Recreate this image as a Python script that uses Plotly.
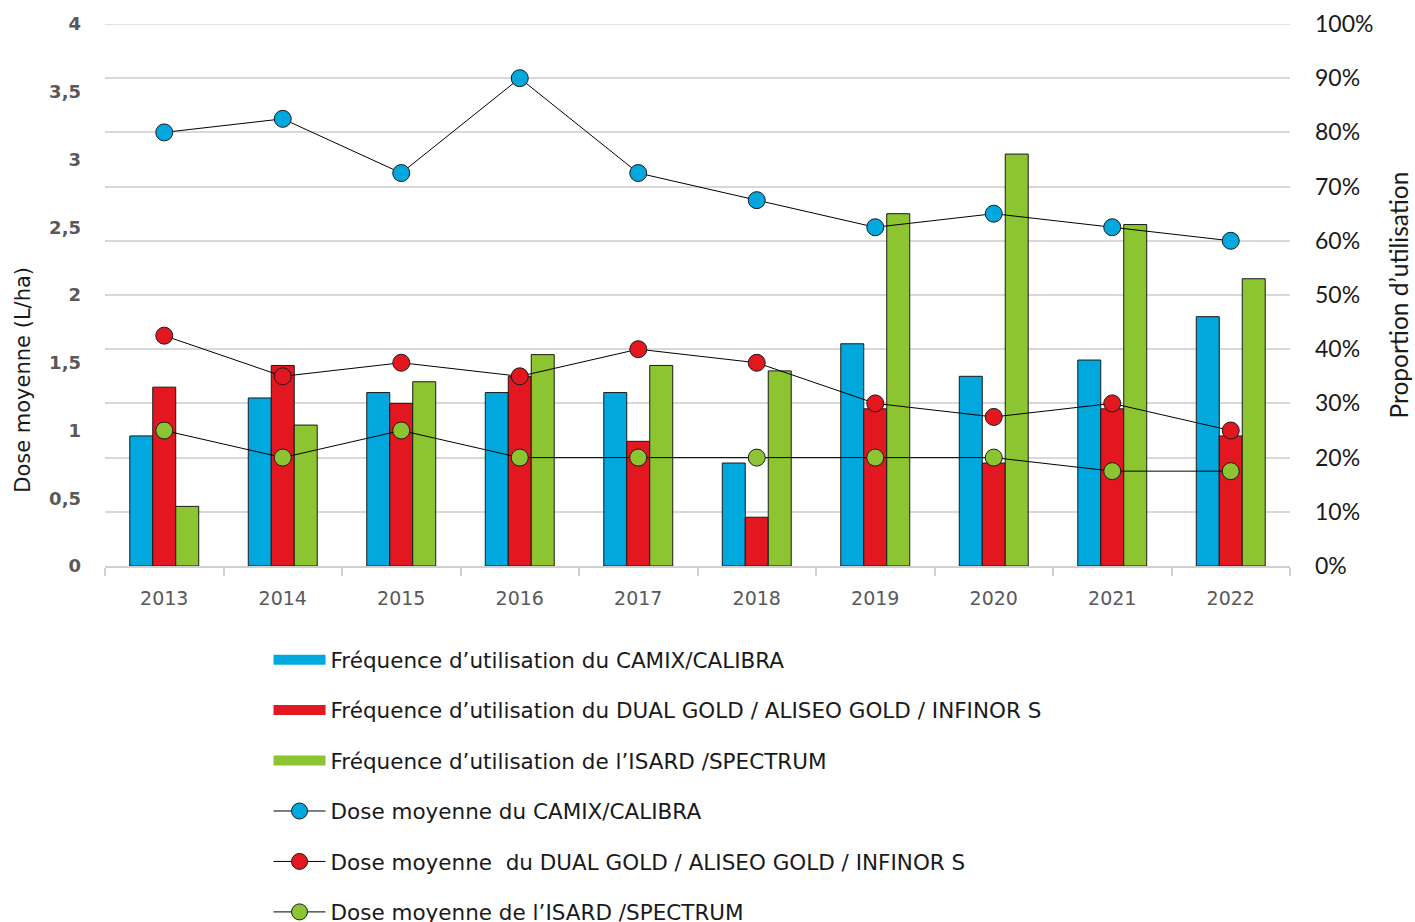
import plotly.graph_objects as go

years = ["2013", "2014", "2015", "2016", "2017", "2018", "2019", "2020", "2021", "2022"]

camix_freq = [24, 31, 32, 32, 32, 19, 41, 35, 38, 46]
dual_freq = [33, 37, 30, 35, 23, 9, 29, 19, 29, 24]
isard_freq = [11, 26, 34, 39, 37, 36, 65, 76, 63, 53]

camix_dose = [3.2, 3.3, 2.9, 3.6, 2.9, 2.7, 2.5, 2.6, 2.5, 2.4]
dual_dose = [1.7, 1.4, 1.5, 1.4, 1.6, 1.5, 1.2, 1.1, 1.2, 1.0]
isard_dose = [1.0, 0.8, 1.0, 0.8, 0.8, 0.8, 0.8, 0.8, 0.7, 0.7]

pct_ticks = [0, 10, 20, 30, 40, 50, 60, 70, 80, 90, 100]
pct_labels = ["0%", "10%", "20%", "30%", "40%", "50%", "60%", "70%", "80%", "90%", "100%"]
dose_ticks = [0, 0.5, 1, 1.5, 2, 2.5, 3, 3.5, 4]
dose_labels = ["0", "0,5", "1", "1,5", "2", "2,5", "3", "3,5", "4"]

BLUE = "#00A8DE"
RED = "#E3171F"
GREEN = "#8DC431"
OUTLINE = "#1a1a1a"
GRID = "#d9d9d9"

bar_names = [
    "Fréquence d’utilisation du CAMIX/CALIBRA",
    "Fréquence d’utilisation du DUAL GOLD / ALISEO GOLD / INFINOR S",
    "Fréquence d’utilisation de l’ISARD /SPECTRUM",
]
line_names = [
    "Dose moyenne du CAMIX/CALIBRA",
    "Dose moyenne  du DUAL GOLD / ALISEO GOLD / INFINOR S",
    "Dose moyenne de l’ISARD /SPECTRUM",
]

fig = go.Figure()

for i, (vals, col) in enumerate(zip([camix_freq, dual_freq, isard_freq], [BLUE, RED, GREEN])):
    fig.add_trace(go.Bar(
        x=years, y=vals, name=bar_names[i], yaxis="y",
        marker=dict(color=col, line=dict(color=OUTLINE, width=1)),
        showlegend=False, hoverinfo="skip",
    ))

# legend entries for bars (wide rectangles)
for i, col in enumerate([BLUE, RED, GREEN]):
    fig.add_trace(go.Scatter(
        x=[None], y=[None], mode="lines", name=bar_names[i], yaxis="y",
        line=dict(color=col, width=14), legendgroup="g%d" % i,
    ))

for i, (vals, col) in enumerate(zip([camix_dose, dual_dose, isard_dose], [BLUE, RED, GREEN])):
    fig.add_trace(go.Scatter(
        x=years, y=vals, name=line_names[i], yaxis="y2", mode="lines+markers",
        line=dict(color="#000000", width=1),
        marker=dict(color=col, size=17, line=dict(color=OUTLINE, width=1)),
        legendgroup="g%d" % (i + 3),
    ))

fig.update_layout(
    width=1415, height=922,
    margin=dict(l=105, r=125, t=24, b=356, autoexpand=False),
    paper_bgcolor="white", plot_bgcolor="white",
    barmode="group", bargap=0.418, bargroupgap=0,
    showlegend=True,
    legend=dict(
        orientation="v", x=0.138, xanchor="left", y=-0.135, yanchor="top",
        font=dict(family="DejaVu Sans", size=21.5, color="#1a1a1a"),
        tracegroupgap=19.5, itemwidth=52, traceorder="grouped",
        bgcolor="rgba(0,0,0,0)",
    ),
    xaxis=dict(
        type="category", range=[-0.5, 9.5], showgrid=False, automargin=False,
        showline=True, linecolor="#d0d0d0", linewidth=1.5,
        ticks="outside", ticklen=8, tickcolor="#d0d0d0", tickwidth=1.5,
        tickson="boundaries", ticklabelstandoff=14,
        tickfont=dict(family="DejaVu Sans", size=19, color="#595959"),
        zeroline=False,
    ),
    yaxis=dict(
        side="right", range=[0, 100], tickvals=pct_ticks, ticktext=pct_labels,
        automargin=False,
        showgrid=True, gridcolor=GRID, gridwidth=1.5,
        zeroline=False, showline=False,
        ticklabelstandoff=24,
        tickfont=dict(family="Lato", size=23, color="#1a1a1a"),
        title=dict(text="Proportion d’utilisation", standoff=18,
                   font=dict(family="Lato", size=24.5, color="#1a1a1a")),
    ),
    yaxis2=dict(
        overlaying="y", side="left", range=[0, 4],
        tickvals=dose_ticks, ticktext=dose_labels, automargin=False,
        showgrid=False, zeroline=False, showline=False,
        ticklabelstandoff=23,
        tickfont=dict(family="DejaVu Sans", size=18, color="#595959", weight="bold"),
    ),
    shapes=[dict(type="line", xref="paper", yref="y", x0=0, x1=1, y0=100, y1=100,
                 line=dict(color=GRID, width=1.5), layer="below")],
    annotations=[dict(
        text="Dose moyenne (L/ha)", xref="paper", yref="paper",
        x=-0.0695, y=0.343, textangle=-90, showarrow=False,
        xanchor="center", yanchor="middle",
        font=dict(family="DejaVu Sans", size=21, color="#1a1a1a"),
    )],
)

fig.write_html("out.html", config={"displayModeBar": False},
               post_script="document.body.style.margin='0';")
